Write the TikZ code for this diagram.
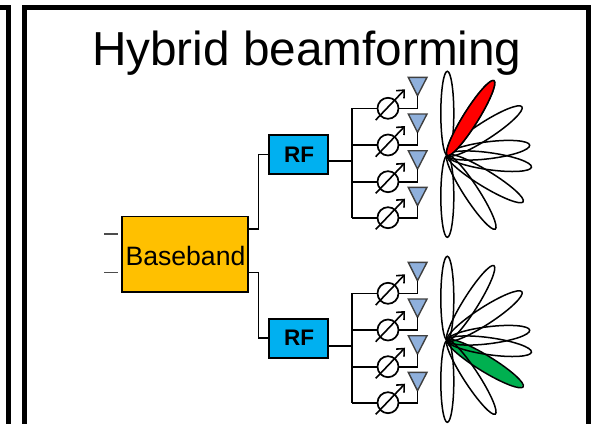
\documentclass[tikz,border=0pt]{standalone}
\usepackage{fontspec}
\setmainfont{Liberation Sans}
\usepackage{tikz}
\usetikzlibrary{arrows.meta,positioning}

\definecolor{bbfill}{HTML}{FFC000}
\definecolor{rffill}{HTML}{00B0F0}
\definecolor{antfill}{HTML}{8FB0DC}
\definecolor{redlobe}{HTML}{FF0000}
\definecolor{greenlobe}{HTML}{00B050}

\begin{document}
\begin{tikzpicture}[x=1pt,y=-1pt,line width=1.7pt,
    frame/.style={line width=5pt},
    wire/.style={line width=1.6pt},
    lobe/.style={line width=1.5pt},
    shifter/.style={draw,circle,inner sep=0pt,minimum size=21pt},
    rfbox/.style={draw,fill=rffill,inner sep=0pt,minimum width=59pt,minimum height=39pt,font=\fontsize{22.5}{24}\selectfont\bfseries}]
       \useasboundingbox (0,0) rectangle (596,423);

       % frames
       \draw[frame] (-5,7.5) -- (8.5,7.5) -- (8.5,430);
       \draw[frame] (24.5,430) -- (24.5,7.5) -- (588,7.5) -- (588,430);

       \node[inner sep=0pt,anchor=base,font=\fontsize{47.7}{50}\selectfont] (title) at (306.8,65) {Hybrid beamforming};

       \node[draw,fill=bbfill,inner sep=0pt,minimum width=126pt,minimum height=75.5pt,text height=23pt,font=\fontsize{26.6}{28}\selectfont] (bb) at (184.7,254.3) {\hspace{1.5pt}Baseband};
       \node[rfbox] (rf_t) at (298.5,154.5) {\hspace{1pt}RF};
       \node[rfbox] (rf_b) at (298.5,338.2) {\hspace{1pt}RF};

       % inputs of the baseband
       \coordinate (in_a) at (104,234);
       \coordinate (in_b) at (104,272.3);
       \draw[black!70,line width=1.2pt] (in_a) -- ++(13.5,0);
       \draw[black!70,line width=1.2pt] (in_b) -- ++(13.5,0);

       \draw[wire] (bb.east |- 0,228.7) -| (258.3,154.5) -- (rf_t.west);
       \draw[wire] (bb.east |- 0,272.3) -| (258.3,338.2) -- (rf_b.west);

       % two rf chains
       \foreach \g/\dy/\hl/\hlcol in {t/0/58/redlobe,b/185/-31.5/greenlobe} {
         \begin{scope}[yshift=-\dy pt]
           \coordinate (bus_\g) at (351.7,160.7);
           \coordinate (c_\g) at (447.3,155.3);
           \draw[wire] (rf_\g.east |- bus_\g) -- (bus_\g);
           \draw[wire] (351.7,108.3) -- (351.7,217.7);

           \foreach \i/\y/\ty in {1/108.3/77.3,2/145/114,3/181.7/150.7,4/217.7/187.3} {
             \node[shifter] (ps_\g\i) at (388,\y) {};
             \coordinate (ant_\g\i) at (417.5,\ty+18.4);
             \fill[antfill] (408.3,\ty) -- (427,\ty) -- (ant_\g\i) -- cycle;
             \draw[black!75,line width=1.4pt] (408.3,\ty) -- (427,\ty) -- (ant_\g\i) -- cycle;
             \draw[wire] (351.7,\y) -- (ps_\g\i.west);
             \draw[wire] (ps_\g\i.east) -| (ant_\g\i);
             \draw[wire,-{Straight Barb[length=6pt,width=11pt]}] (375.7,\y+11.7) -- (405,\y-19);
           }

           % beam pattern
           \fill[\hlcol,shift={(c_\g)},rotate=\hl] (44,0) ellipse [x radius=44,y radius=7.5];
           \foreach \a/\l/\w in {90/84/6.5,58/88/7.5,33/89/8.5,7/83/8.5,-8/85/8.5,-31.5/89/8,-57/88/7.5,-90/82/6.5} {
             \draw[lobe,shift={(c_\g)},rotate=\a] (\l/2,0) ellipse [x radius=\l/2,y radius=\w];
           }
           \ifnum\dy=0
             \draw[lobe,fill=\hlcol,shift={(c_\g)},rotate=\hl] (44,0) ellipse [x radius=44,y radius=7.5];
           \fi
         \end{scope}
       }
     \end{tikzpicture}
\end{document}
